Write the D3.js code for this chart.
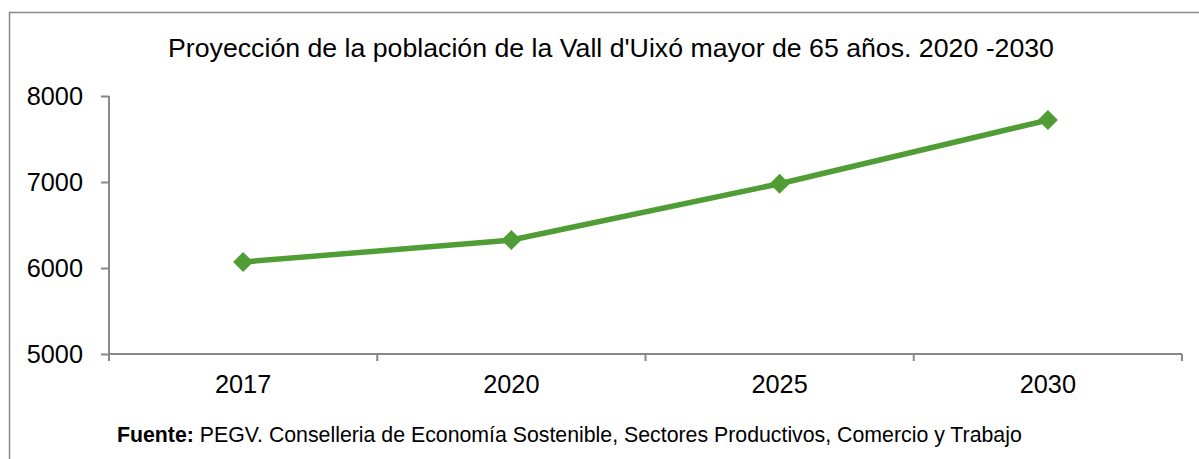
<!DOCTYPE html>
<html><head><meta charset="utf-8">
<script src="https://cdn.jsdelivr.net/npm/d3@7"></script>
<style>body{margin:0;background:#fff}svg{display:block}text{font-family:"Liberation Sans",Arial,sans-serif}</style>
</head><body>
<script>
const categories = ["2017","2020","2025","2030"];
const values = [6070, 6325, 6980, 7720];
const yTicks = [5000, 6000, 7000, 8000];
const title = "Proyección de la población de la Vall d'Uixó mayor de 65 años. 2020 -2030";
const sourceBold = "Fuente:";
const sourceText = " PEGV. Conselleria de Economía Sostenible, Sectores Productivos, Comercio y Trabajo";

(function(){
const W = 1199, H = 459;
const svg = d3.select("body").append("svg").attr("width", W).attr("height", H);
const axisColor = "#888888";
const green = "#4f9d34";

// frame
svg.append("path").attr("d", `M9.5,${H+2} L9.5,12.5 L${W+2},12.5`).attr("fill","none").attr("stroke",axisColor).attr("stroke-width",1.5);

const pLeft = 109, pRight = 1182, pTop = 96, pBottom = 354;
const x = d3.scaleBand().domain(categories).range([pLeft, pRight]);
const y = d3.scaleLinear().domain([5000, 8000]).range([pBottom, pTop]);

svg.append("text").attr("x", 611).attr("y", 57).attr("text-anchor","middle").attr("font-size",26.7).attr("fill","#000").text(title);

// y axis
const ya = svg.append("g").attr("transform",`translate(${pLeft},0)`).call(d3.axisLeft(y).tickValues(yTicks).tickSize(8).tickPadding(18).tickFormat(d3.format("d")));
ya.selectAll("text").attr("font-size",25.3).attr("fill","#000").attr("font-family","Liberation Sans, Arial, sans-serif");
ya.selectAll("line,path").attr("stroke",axisColor).attr("stroke-width",2);
ya.select(".domain").attr("d",`M0,${pTop}V${pBottom}`);

// x axis
const xa = svg.append("g").attr("transform",`translate(0,${pBottom})`).call(d3.axisBottom(x).tickSize(0).tickPadding(21));
xa.selectAll("text").attr("font-size",25.3).attr("fill","#000").attr("font-family","Liberation Sans, Arial, sans-serif");
xa.select(".domain").attr("stroke",axisColor).attr("stroke-width",2).attr("d",`M${pLeft},0H${pRight}`);
const bounds = categories.map(c => x(c)).concat([pRight]);
xa.selectAll(".sep").data(bounds).enter().append("line").attr("class","sep")
  .attr("x1", d=>d).attr("x2", d=>d).attr("y1",0).attr("y2",7).attr("stroke",axisColor).attr("stroke-width",2);

const cx = c => x(c) + x.bandwidth()/2;
const line = d3.line().x((d,i)=>cx(categories[i])).y(d=>y(d));
svg.append("path").datum(values).attr("d", line).attr("fill","none").attr("stroke",green).attr("stroke-width",5.5).attr("stroke-linejoin","round");

svg.selectAll(".pt").data(values).enter().append("path").attr("class","pt")
  .attr("transform",(d,i)=>`translate(${cx(categories[i])},${y(d)})`)
  .attr("d","M0,-10 L10,0 L0,10 L-10,0 Z").attr("fill",green);

const src = svg.append("text").attr("x",117).attr("y",442).attr("font-size",21.3).attr("fill","#000");
src.append("tspan").attr("font-weight","bold").text(sourceBold);
src.append("tspan").text(sourceText);
})();
</script>
</body></html>
